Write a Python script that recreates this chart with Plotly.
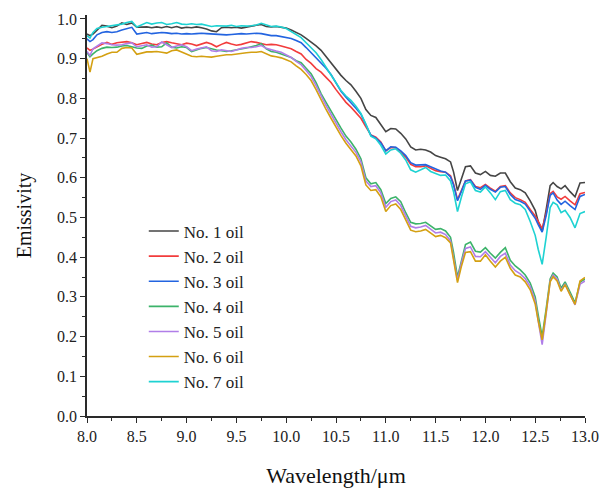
import plotly.graph_objects as go

wavelength = [
    8.00, 8.03, 8.06, 8.10,
    8.15, 8.20, 8.25, 8.30, 8.35, 8.40, 8.45, 8.50, 8.55, 8.60, 8.65, 8.70, 8.75, 8.80, 8.85, 8.90, 8.95, 9.00,
    9.05, 9.10, 9.15, 9.20, 9.25, 9.30, 9.35, 9.40, 9.45, 9.50, 9.55, 9.60, 9.65, 9.70, 9.75, 9.80, 9.85, 9.90, 9.95, 10.00,
    10.05, 10.10, 10.15, 10.20, 10.25, 10.30, 10.35, 10.40, 10.45, 10.50, 10.55, 10.60, 10.65, 10.70, 10.75, 10.80, 10.85, 10.90, 10.95, 11.00,
    11.05, 11.10, 11.15, 11.20, 11.25, 11.30, 11.35, 11.40, 11.45, 11.50, 11.55, 11.60, 11.65,
    11.68, 11.72, 11.76, 11.80,
    11.85, 11.90, 11.95, 12.00, 12.05, 12.10, 12.15, 12.20, 12.25, 12.30, 12.35, 12.40, 12.45, 12.50,
    12.53, 12.57, 12.61, 12.65, 12.68, 12.72, 12.76, 12.80,
    12.85, 12.90, 12.95, 13.00,
]

oil1 = [
    0.962, 0.958, 0.962, 0.972,
    0.984, 0.982, 0.978, 0.982, 0.990, 0.986, 0.990, 0.979, 0.979, 0.980, 0.978, 0.980, 0.978, 0.981, 0.978, 0.981, 0.977, 0.979,
    0.978, 0.980, 0.978, 0.975, 0.970, 0.968, 0.978, 0.979, 0.978, 0.979, 0.977, 0.980, 0.982, 0.984, 0.986, 0.981, 0.980, 0.981, 0.979, 0.977,
    0.972, 0.966, 0.960, 0.951, 0.942, 0.932, 0.921, 0.905, 0.889, 0.872, 0.858, 0.845, 0.834, 0.818, 0.800, 0.772, 0.757, 0.752, 0.735, 0.716,
    0.724, 0.723, 0.712, 0.698, 0.678, 0.670, 0.672, 0.670, 0.665, 0.656, 0.652, 0.648, 0.640,
    0.615, 0.568, 0.600, 0.628,
    0.630, 0.612, 0.608, 0.616, 0.606, 0.604, 0.612, 0.612, 0.590, 0.574, 0.570, 0.562, 0.542, 0.518,
    0.490, 0.465, 0.520, 0.580, 0.588, 0.578, 0.572, 0.580,
    0.565, 0.552, 0.587, 0.588,
]

oil2 = [
    0.927, 0.921, 0.924, 0.930,
    0.936, 0.941, 0.936, 0.940, 0.942, 0.943, 0.940, 0.935, 0.938, 0.941, 0.937, 0.935, 0.941, 0.943, 0.940, 0.938, 0.935, 0.939,
    0.937, 0.933, 0.938, 0.941, 0.937, 0.930, 0.936, 0.941, 0.937, 0.934, 0.936, 0.940, 0.943, 0.941, 0.937, 0.935, 0.936, 0.935, 0.932, 0.929,
    0.925, 0.918, 0.912, 0.898, 0.888, 0.875, 0.866, 0.853, 0.840, 0.822, 0.805, 0.790, 0.778, 0.765, 0.750, 0.728, 0.708, 0.702, 0.690, 0.668,
    0.676, 0.676, 0.664, 0.652, 0.634, 0.628, 0.628, 0.630, 0.624, 0.618, 0.615, 0.614, 0.605,
    0.585, 0.545, 0.568, 0.592,
    0.595, 0.578, 0.575, 0.583, 0.574, 0.566, 0.578, 0.580, 0.562, 0.550, 0.545, 0.538, 0.520, 0.504,
    0.490, 0.472, 0.510, 0.560, 0.566, 0.552, 0.546, 0.553,
    0.542, 0.532, 0.560, 0.563,
]

oil3 = [
    0.950, 0.943, 0.948, 0.960,
    0.966, 0.968, 0.966, 0.968, 0.972, 0.976, 0.979, 0.962, 0.964, 0.966, 0.963, 0.964, 0.966, 0.965, 0.963, 0.964, 0.962, 0.963,
    0.962, 0.963, 0.964, 0.963, 0.962, 0.962, 0.961, 0.960, 0.961, 0.962, 0.963, 0.962, 0.963, 0.964, 0.963, 0.961, 0.958, 0.958, 0.956, 0.954,
    0.951, 0.946, 0.940, 0.928, 0.915, 0.903, 0.891, 0.876, 0.860, 0.840, 0.818, 0.803, 0.790, 0.775, 0.760, 0.735, 0.707, 0.700, 0.688, 0.668,
    0.678, 0.677, 0.668, 0.656, 0.638, 0.632, 0.633, 0.633, 0.628, 0.622, 0.617, 0.614, 0.602,
    0.582, 0.542, 0.566, 0.592,
    0.594, 0.576, 0.571, 0.581, 0.571, 0.564, 0.576, 0.578, 0.558, 0.545, 0.541, 0.534, 0.516, 0.498,
    0.482, 0.463, 0.505, 0.556, 0.562, 0.544, 0.533, 0.541,
    0.530, 0.520, 0.553, 0.558,
]

oil4 = [
    0.915, 0.905, 0.912, 0.920,
    0.926, 0.929, 0.928, 0.929, 0.932, 0.933, 0.930, 0.927, 0.926, 0.932, 0.934, 0.929, 0.930, 0.940, 0.929, 0.927, 0.930, 0.928,
    0.918, 0.922, 0.926, 0.928, 0.924, 0.922, 0.920, 0.918, 0.920, 0.922, 0.924, 0.927, 0.930, 0.933, 0.938, 0.925, 0.918, 0.916, 0.912, 0.907,
    0.903, 0.895, 0.890, 0.876, 0.862, 0.840, 0.812, 0.790, 0.768, 0.745, 0.725, 0.705, 0.690, 0.672, 0.648, 0.600, 0.585, 0.588, 0.570, 0.535,
    0.548, 0.552, 0.540, 0.512, 0.488, 0.484, 0.485, 0.488, 0.478, 0.470, 0.472, 0.466, 0.450,
    0.412, 0.350, 0.395, 0.432,
    0.438, 0.415, 0.413, 0.424, 0.410, 0.398, 0.412, 0.424, 0.392, 0.378, 0.368, 0.355, 0.335, 0.300,
    0.255, 0.200, 0.270, 0.345, 0.360, 0.350, 0.322, 0.338,
    0.312, 0.285, 0.337, 0.345,
]

oil5 = [
    0.918, 0.908, 0.925, 0.932,
    0.940, 0.938, 0.935, 0.934, 0.935, 0.938, 0.940, 0.930, 0.933, 0.935, 0.929, 0.930, 0.942, 0.934, 0.928, 0.932, 0.935, 0.930,
    0.920, 0.924, 0.928, 0.930, 0.920, 0.918, 0.922, 0.920, 0.918, 0.922, 0.926, 0.928, 0.928, 0.930, 0.933, 0.926, 0.922, 0.919, 0.916, 0.910,
    0.903, 0.893, 0.885, 0.870, 0.855, 0.832, 0.806, 0.782, 0.760, 0.736, 0.716, 0.696, 0.680, 0.664, 0.640, 0.592, 0.578, 0.580, 0.562, 0.526,
    0.540, 0.544, 0.530, 0.502, 0.478, 0.474, 0.476, 0.480, 0.470, 0.461, 0.463, 0.457, 0.441,
    0.402, 0.342, 0.386, 0.422,
    0.426, 0.402, 0.401, 0.414, 0.400, 0.386, 0.402, 0.410, 0.380, 0.366, 0.358, 0.346, 0.326, 0.290,
    0.240, 0.180, 0.258, 0.340, 0.355, 0.345, 0.316, 0.333,
    0.306, 0.280, 0.332, 0.340,
]

oil6 = [
    0.900, 0.866, 0.900, 0.903,
    0.906, 0.912, 0.916, 0.916, 0.926, 0.928, 0.927, 0.911, 0.914, 0.917, 0.917, 0.918, 0.916, 0.914, 0.920, 0.922, 0.917, 0.912,
    0.906, 0.905, 0.906, 0.905, 0.904, 0.906, 0.908, 0.910, 0.910, 0.912, 0.914, 0.915, 0.916, 0.916, 0.918, 0.912, 0.907, 0.905, 0.902, 0.897,
    0.892, 0.882, 0.873, 0.860, 0.845, 0.822, 0.795, 0.772, 0.750, 0.726, 0.706, 0.687, 0.671, 0.655, 0.630, 0.582, 0.568, 0.570, 0.552, 0.515,
    0.530, 0.534, 0.520, 0.492, 0.468, 0.464, 0.466, 0.470, 0.460, 0.452, 0.455, 0.449, 0.436,
    0.396, 0.336, 0.378, 0.412,
    0.414, 0.390, 0.390, 0.406, 0.390, 0.375, 0.390, 0.400, 0.372, 0.355, 0.350, 0.338, 0.318, 0.282,
    0.240, 0.192, 0.262, 0.338, 0.351, 0.340, 0.314, 0.331,
    0.305, 0.281, 0.340, 0.349,
]

oil7 = [
    0.958, 0.952, 0.966, 0.976,
    0.979, 0.981, 0.983, 0.986, 0.987, 0.991, 0.994, 0.980, 0.986, 0.991, 0.987, 0.990, 0.991, 0.986, 0.988, 0.991, 0.987, 0.986,
    0.988, 0.986, 0.987, 0.984, 0.981, 0.983, 0.983, 0.982, 0.984, 0.981, 0.983, 0.982, 0.983, 0.985, 0.989, 0.984, 0.981, 0.982, 0.980, 0.976,
    0.968, 0.962, 0.953, 0.940, 0.928, 0.915, 0.898, 0.879, 0.860, 0.840, 0.820, 0.806, 0.795, 0.780, 0.762, 0.735, 0.705, 0.698, 0.682, 0.660,
    0.670, 0.673, 0.662, 0.645, 0.620, 0.614, 0.620, 0.626, 0.616, 0.610, 0.606, 0.607, 0.592,
    0.565, 0.515, 0.552, 0.585,
    0.590, 0.568, 0.564, 0.577, 0.562, 0.545, 0.565, 0.568, 0.545, 0.536, 0.532, 0.520, 0.490, 0.455,
    0.420, 0.382, 0.450, 0.525, 0.538, 0.532, 0.512, 0.518,
    0.500, 0.474, 0.510, 0.515,
]

series_names = ["No. 1 oil", "No. 2 oil", "No. 3 oil", "No. 4 oil", "No. 5 oil", "No. 6 oil", "No. 7 oil"]
series_values = [oil1, oil2, oil3, oil4, oil5, oil6, oil7]
series_colors = ["#454545", "#f23c3c", "#2364e0", "#3cb36a", "#b07ee8", "#d4a012", "#1ed2d2"]

FONT = "Liberation Serif, Times New Roman, serif"

fig = go.Figure()
for name, vals, col in zip(series_names, series_values, series_colors):
    fig.add_trace(go.Scatter(x=wavelength, y=vals, mode="lines", name=name,
                             line=dict(color=col, width=1.6)))

axis_common = dict(
    showline=True, linecolor="#2a2a2a", linewidth=1.5, mirror=False,
    showgrid=False, zeroline=False, automargin=False,
    ticks="outside", ticklen=5, tickwidth=1.3, tickcolor="#2a2a2a",
    tickfont=dict(family=FONT, size=16, color="#222222"),
)

fig.update_xaxes(
    range=[8, 13], dtick=0.5, tick0=8, tickformat=".1f",
    minor=dict(ticks="outside", ticklen=3, tickwidth=1.2, tickcolor="#2a2a2a", dtick=0.25),
    title=dict(text="Wavelength/μm", font=dict(family=FONT, size=22, color="#111111"), standoff=24),
    **axis_common,
)
fig.update_yaxes(
    range=[0, 1.01], dtick=0.1, tick0=0, tickformat=".1f",
    minor=dict(ticks="outside", ticklen=3, tickwidth=1.2, tickcolor="#2a2a2a", dtick=0.05),
    title=dict(text="Emissivity", font=dict(family=FONT, size=20, color="#111111"), standoff=20),
    **axis_common,
)

fig.update_layout(
    width=601, height=491,
    margin=dict(l=87, r=16, t=15, b=75),
    paper_bgcolor="white", plot_bgcolor="white",
    font=dict(family=FONT, color="#222222"),
    legend=dict(
        x=0.114, y=0.505, xanchor="left", yanchor="top",
        bgcolor="rgba(0,0,0,0)", borderwidth=0,
        font=dict(family=FONT, size=17, color="#222222"),
        tracegroupgap=0, itemwidth=30,
    ),
    showlegend=True,
)

fig.write_html("out.html")
